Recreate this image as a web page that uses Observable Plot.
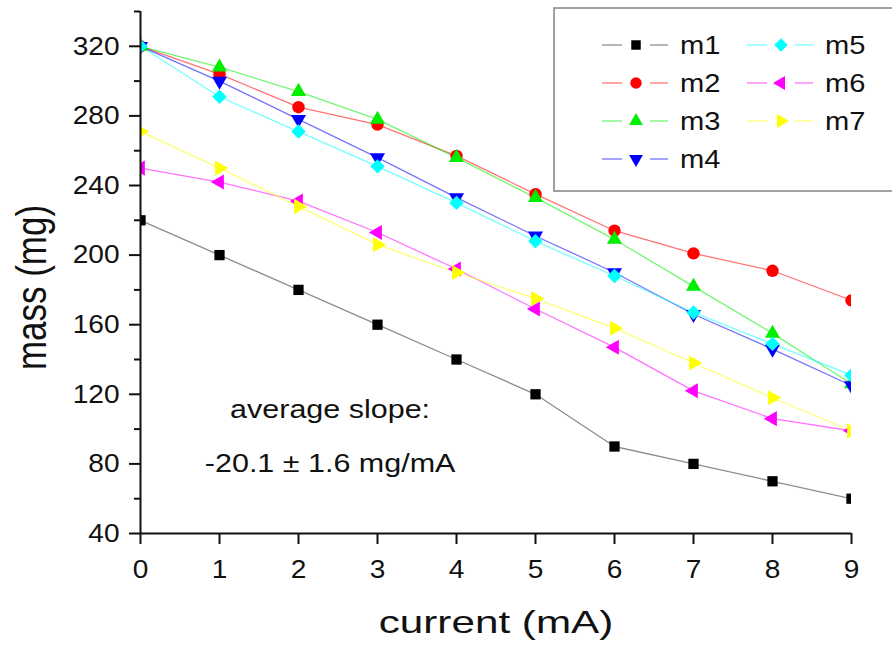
<!DOCTYPE html>
<html>
<head>
<meta charset="utf-8">
<script src="https://cdn.jsdelivr.net/npm/d3@7"></script>
<script src="https://cdn.jsdelivr.net/npm/@observablehq/plot@0.6"></script>
<style>
  html, body { margin: 0; padding: 0; background: #fff; }
  #wrap { position: relative; width: 892px; height: 650px; }
</style>
</head>
<body>
<div id="wrap"></div>
<script>
// ---- data ----
const current = [0, 1, 2, 3, 4, 5, 6, 7, 8, 9];
const seriesNames = ["m1", "m2", "m3", "m4", "m5", "m6", "m7"];
const m1 = [220, 200, 180, 160, 140, 120, 90, 80, 70, 60];
const m2 = [320, 304, 285, 275, 257, 235, 214, 201, 191, 174];
const m3 = [320, 308, 294, 278, 256, 233, 209, 182, 155, 126];
const m4 = [320, 300, 278, 256, 233, 211, 190, 166, 146, 125];
const m5 = [320, 291, 271, 251, 230, 208, 188, 167, 149, 131];
const m6 = [250, 242, 231, 213, 192, 169, 147, 122, 106, 99];
const m7 = [271, 250, 228, 206, 190, 175, 158, 138, 118, 99];
const seriesValues = [m1, m2, m3, m4, m5, m6, m7];

const xTicks = [0, 1, 2, 3, 4, 5, 6, 7, 8, 9];
const yTicks = [40, 80, 120, 160, 200, 240, 280, 320];
const yMinorTicks = [60, 100, 140, 180, 220, 260, 300, 340];
const xDomain = [0, 9];
const yDomain = [40, 340];

const xLabel = "current (mA)";
const yLabel = "mass (mg)";
const noteTexts = ["average slope:", "-20.1 \u00b1 1.6 mg/mA"];
const noteX = [2.4, 2.4];
const noteY = [111, 80];

// ---- styles ----
const colors = ["#000000", "#ff0000", "#00ee00", "#0000ff", "#00ffff", "#ff00ff", "#ffff00"];
const symbols = ["square", "circle", "triangle", "triangle", "diamond2", "triangle", "triangle"];
const rotations = [0, 0, 0, 180, 0, -90, 90];
const radii = [5.8, 6.2, 5.6, 5.6, 6.5, 5.6, 5.6];
const FONT = "'Liberation Sans', Arial, Helvetica, sans-serif";

const rows = seriesValues.map((vals, i) =>
  current.map((c, j) => ({ current: c, mass: vals[j], series: seriesNames[i] }))
);

const lineMarks = rows.map((r, i) =>
  Plot.line(r, { x: "current", y: "mass", stroke: colors[i], strokeOpacity: i === 0 ? 0.45 : 0.55, strokeWidth: 1.3, clip: true })
);
const dotMarks = rows.map((r, i) =>
  Plot.dot(r, { x: "current", y: "mass", symbol: symbols[i], fill: colors[i], stroke: "none", r: radii[i], rotate: rotations[i], clip: true })
);

const chart = Plot.plot({
  width: 892,
  height: 650,
  marginLeft: 140,
  marginRight: 41,
  marginTop: 11,
  marginBottom: 117,
  style: { fontFamily: FONT, background: "white", color: "#111", overflow: "visible" },
  x: { domain: xDomain },
  y: { domain: yDomain },
  marks: [
    ...lineMarks,
    ...dotMarks,
    Plot.ruleX([xDomain[0]], { y1: yDomain[0], y2: yDomain[1], stroke: "#111", strokeWidth: 2 }),
    Plot.ruleY([yDomain[0]], { x1: xDomain[0], x2: xDomain[1], stroke: "#111", strokeWidth: 2 }),
    Plot.axisY({ ticks: yMinorTicks, tickSize: 6, strokeWidth: 2, text: null, label: null }),
    Plot.axisY({ ticks: yTicks, tickSize: 11, tickPadding: 10, strokeWidth: 2, fontSize: 26, tickFormat: d => String(d), label: null }),
    Plot.axisX({ ticks: xTicks, tickSize: 11, tickPadding: 15, strokeWidth: 2, fontSize: 26, tickFormat: d => String(d), label: null }),
    Plot.text([xLabel], { frameAnchor: "bottom", textAnchor: "middle", dy: 99, lineAnchor: "bottom", fontSize: 32, fill: "#111" }),
    Plot.text([yLabel], { frameAnchor: "left", textAnchor: "middle", dx: -95, dy: 15, rotate: -90, lineAnchor: "bottom", fontSize: 35, fill: "#111" }),
    Plot.text(noteTexts, { x: (d, i) => noteX[i], y: (d, i) => noteY[i], text: d => d, textAnchor: "middle", fontSize: 25, fill: "#111" })
  ]
});

const wrap = document.getElementById("wrap");
wrap.appendChild(chart);

// the original figure's text is horizontally stretched; scale each text about its anchor
function stretchText(el, sx, sy) {
  const t = el.getAttribute("transform") || "";
  let tx = 0, ty = 0;
  for (const [a, d] of [["x", "dx"], ["y", "dy"]]) {
    const v = el.getAttribute(a);
    if (v === null) continue;
    if (/em$/.test(v)) {
      el.setAttribute(d, v);
    } else if (a === "x") tx = +v || 0;
    else ty = +v || 0;
    el.removeAttribute(a);
  }
  el.setAttribute("transform", `${t} translate(${tx},${ty}) scale(${sx},${sy})`);
}
d3.select(chart).selectAll("text").each(function () {
  const s = this.textContent;
  if (s === xLabel) stretchText(this, 1.32, 1);
  else if (s === yLabel) stretchText(this, 1, 1.22);
  else if (noteTexts.includes(s)) stretchText(this, 1.22, 1);
  else if (/^\d+$/.test(s)) stretchText(this, 1.08, 1);
});

// ---- legend ----
const leg = d3.select(wrap).append("svg")
  .attr("width", 892).attr("height", 650)
  .style("position", "absolute").style("left", "0px").style("top", "0px")
  .style("font-family", FONT);
leg.append("rect")
  .attr("x", 554).attr("y", 8).attr("width", 360).attr("height", 183)
  .attr("fill", "white").attr("stroke", "#8a8a8a").attr("stroke-width", 1.6);

const symbolTypes = { square: d3.symbolSquare, circle: d3.symbolCircle, triangle: d3.symbolTriangle, diamond2: d3.symbolDiamond2 };
seriesNames.forEach((name, i) => {
  const col = i < 4 ? 0 : 1;
  const row = i < 4 ? i : i - 4;
  const ox = col * 145;
  const cy = 45 + row * 38;
  const g = leg.append("g");
  [[602, 622], [650, 668]].forEach(([a, b]) => {
    g.append("line").attr("x1", a + ox).attr("x2", b + ox).attr("y1", cy).attr("y2", cy)
      .attr("stroke", colors[i]).attr("stroke-opacity", i === 0 ? 0.45 : 0.55).attr("stroke-width", 1.3);
  });
  g.append("path")
    .attr("d", d3.symbol().type(symbolTypes[symbols[i]]).size(Math.PI * radii[i] * radii[i] * 0.85)())
    .attr("transform", `translate(${636 + ox},${cy}) rotate(${rotations[i]})`)
    .attr("fill", colors[i]);
  g.append("text")
    .attr("transform", `translate(${680 + ox},${cy}) scale(1.12,1)`)
    .attr("dy", "0.36em")
    .attr("font-size", 26)
    .attr("fill", "#111")
    .text(name);
});
</script>
</body>
</html>
